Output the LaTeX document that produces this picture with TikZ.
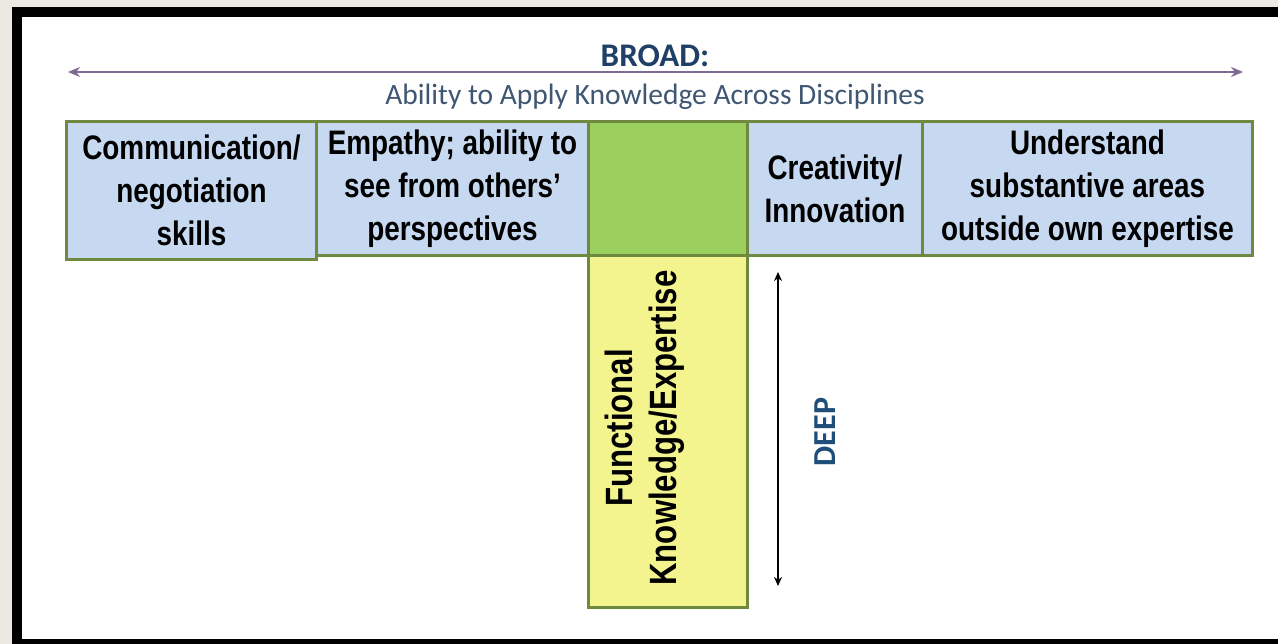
\documentclass[tikz,border=0pt]{standalone}
\usepackage{fontspec}
\setmainfont{Liberation Sans}
\newfontfamily\narrowbf{Liberation Sans}[FakeStretch=0.82]
\newfontfamily\calibri{Carlito}
\usetikzlibrary{arrows.meta}
\definecolor{boxblue}{HTML}{C6D9F1}
\definecolor{boxedge}{HTML}{6F8A3E}
\definecolor{midgreen}{HTML}{9BCF5E}
\definecolor{yell}{HTML}{F4F48E}
\definecolor{arrowpurple}{HTML}{7D6B94}
\definecolor{titleblue}{HTML}{1F3F66}
\definecolor{subblue}{HTML}{3F5772}
\definecolor{deepblue}{HTML}{1F4E79}
\definecolor{bgbeige}{HTML}{ECE8E2}
\tikzset{
  cell/.style={draw=boxedge, line width=3pt, rectangle, inner sep=0pt, anchor=north west,
    align=center, text=black, font=\narrowbf\bfseries\fontsize{34}{43}\selectfont},
  bluecell/.style={cell, fill=boxblue},
  broadarrow/.style={draw=arrowpurple, line width=2.8pt, {Stealth[length=12pt,width=10pt]}-{Stealth[length=12pt,width=10pt]}},
  deeparrow/.style={draw=black, line width=2.2pt, {Stealth[length=9pt,width=8pt]}-{Stealth[length=9pt,width=8pt]}}
}
\begin{document}
\begin{tikzpicture}[x=1pt,y=-1pt]
\useasboundingbox (0,0) rectangle (1278,644);
\fill[bgbeige] (0,0) rectangle (1278,644);
\fill[black] (12,7) rectangle (1278,644);
\fill[white] (22,17) rectangle (1278,639);
% broad arrow
\coordinate (bl) at (68,72);
\coordinate (br) at (1243,72);
\draw[broadarrow] (bl) -- (br);
\node[font=\calibri\bfseries\fontsize{33}{38}\selectfont, text=titleblue] (broad) at (655,56) {BROAD:};
\node[font=\calibri\fontsize{29.5}{34}\selectfont, text=subblue] (sub) at (655,97) {Ability to Apply Knowledge Across Disciplines};
% top row
\node[bluecell, minimum width=250pt, minimum height=138pt] (comm) at (65,120) {Communication/\\negotiation\\skills};
\node[bluecell, minimum width=272pt, minimum height=134pt] (emp) at (315,120) {Empathy; ability to\\see from others’\\perspectives};
\node[cell, fill=midgreen, minimum width=159pt, minimum height=134pt] (mid) at (587,120) {};
\node[bluecell, minimum width=175pt, minimum height=134pt] (crea) at (746,120) {Creativity/\\Innovation};
\node[bluecell, minimum width=330pt, minimum height=134pt] (und) at (921,120) {Understand\\substantive areas\\outside own expertise};
% vertical stem
\node[cell, fill=yell, minimum width=159pt, minimum height=352pt] (stem) at (587,254) {};
\node[rotate=90, align=center, font=\narrowbf\bfseries\fontsize{38}{44}\selectfont] (func) at (645,428) {Functional\\Knowledge/Expertise};
% deep arrow
\coordinate (dt) at (778,272);
\coordinate (db) at (778,586);
\draw[deeparrow] (dt) -- (db);
\node[rotate=90, font=\calibri\bfseries\fontsize{32}{36}\selectfont, text=deepblue] (deep) at (825,432) {DEEP};
\end{tikzpicture}
\end{document}
